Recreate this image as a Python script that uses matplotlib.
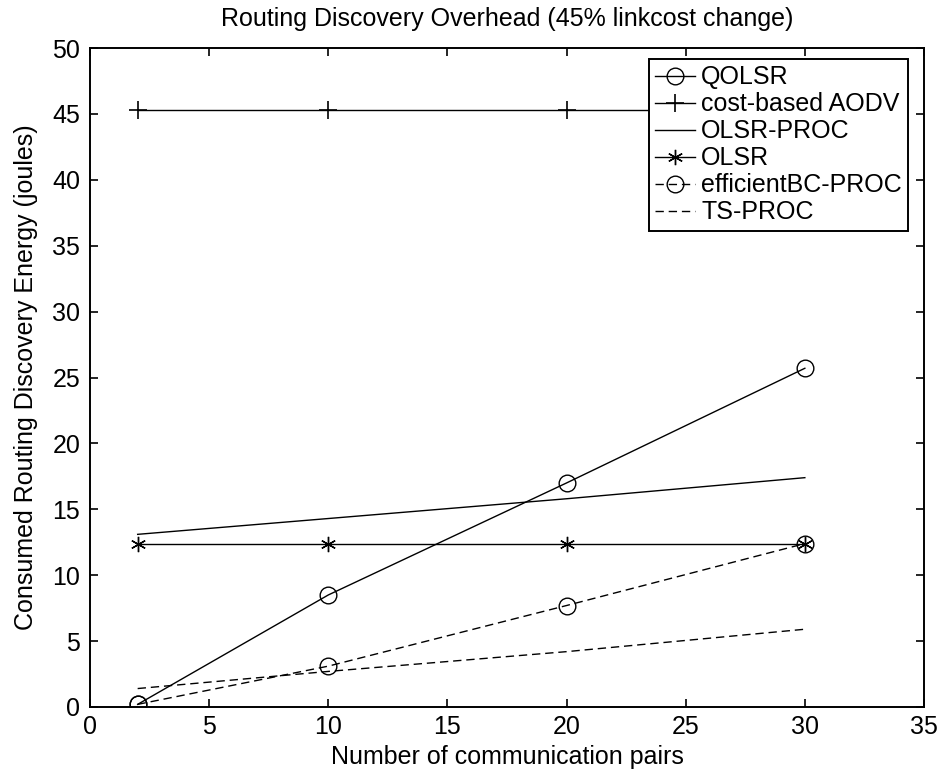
import matplotlib
matplotlib.use('Agg')
import matplotlib.pyplot as plt

# data
pairs = [2, 10, 20, 30]
qolsr = [0.2, 8.5, 17.0, 25.7]
aodv = [45.3, 45.3, 45.3, 45.3]
olsr_proc = [13.1, 14.3, 15.8, 17.4]
olsr = [12.4, 12.4, 12.4, 12.4]
effbc_proc = [0.2, 3.1, 7.7, 12.4]
ts_proc = [1.4, 2.7, 4.2, 5.9]

plt.rcParams['font.family'] = ['Liberation Sans', 'DejaVu Sans']
fs = 18

fig = plt.figure(figsize=(9.4, 7.78), dpi=100)
# axes box: x 90..924 px, y 48..707 px
ax = fig.add_axes([90 / 940, 71 / 778, 834 / 940, 659 / 778])

lw = 1.0
dash = (6, 3.5)
ax.plot(pairs, qolsr, 'k-o', lw=lw, ms=12, mfc='none', mew=1.0, label='QOLSR')
ax.plot(pairs, aodv, 'k-+', lw=lw, ms=13, mew=1.2, label='cost-based AODV')
ax.plot(pairs, olsr_proc, 'k-', lw=lw, label='OLSR-PROC')
ax.plot(pairs, olsr, 'k-', marker=(6, 2, 0), lw=lw, ms=11, mew=1.0, label='OLSR')
ax.plot(pairs, effbc_proc, 'k--o', lw=lw, ms=12, mfc='none', mew=1.0,
        dashes=dash, label='efficientBC-PROC')
ax.plot(pairs, ts_proc, 'k--', lw=lw, dashes=dash, label='TS-PROC')

ax.set_xlim(0, 35)
ax.set_ylim(0, 50)
ax.set_xticks(range(0, 36, 5))
ax.set_yticks(range(0, 51, 5))
ax.tick_params(direction='in', length=6, width=1.2, top=True, right=True,
               labelsize=fs)
ax.tick_params(axis='x', pad=6)
ax.tick_params(axis='y', pad=7)
for s in ax.spines.values():
    s.set_linewidth(1.4)

ax.set_title('Routing Discovery Overhead (45% linkcost change)', fontsize=fs, pad=16)
ax.set_xlabel('Number of communication pairs', fontsize=fs, labelpad=4)
ax.set_ylabel('Consumed Routing Discovery Energy (joules)', fontsize=fs, labelpad=10)

leg = ax.legend(loc='upper right', bbox_to_anchor=(908 / 940, 719 / 778),
                bbox_transform=fig.transFigure, borderaxespad=0, fontsize=fs,
                handlelength=1.6, labelspacing=0.12, borderpad=0.25,
                handletextpad=0.25, fancybox=False, framealpha=1,
                edgecolor='black')
leg.get_frame().set_linewidth(1.4)

fig.savefig('out.png', dpi=100)
